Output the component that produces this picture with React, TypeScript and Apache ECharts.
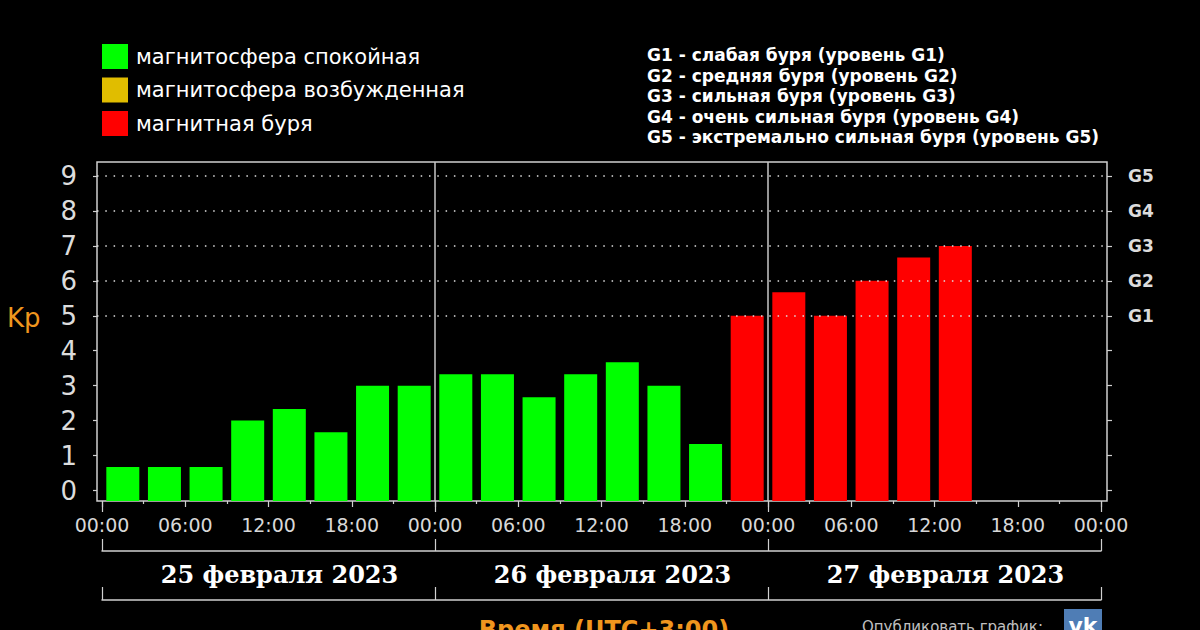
import React, { useEffect, useRef } from "react";
import * as echarts from "echarts";

// ---- data ----
const days = ["25 февраля 2023", "26 февраля 2023", "27 февраля 2023"];
const slotHours = ["00:00", "03:00", "06:00", "09:00", "12:00", "15:00", "18:00", "21:00"];
const kpValues: (number | null)[] = [
  0.67, 0.67, 0.67, 2, 2.33, 1.67, 3, 3,
  3.33, 3.33, 2.67, 3.33, 3.67, 3, 1.33, 5,
  5.67, 5, 6, 6.67, 7, null, null, null,
];
const timeTickLabels = ["00:00", "06:00", "12:00", "18:00"];
const kpTicks = [0, 1, 2, 3, 4, 5, 6, 7, 8, 9];
const stormLevels = [5, 6, 7, 8, 9];
const stormLabels = ["G1", "G2", "G3", "G4", "G5"];
const stormDescriptions = [
  "G1 - слабая буря (уровень G1)",
  "G2 - средняя буря (уровень G2)",
  "G3 - сильная буря (уровень G3)",
  "G4 - очень сильная буря (уровень G4)",
  "G5 - экстремально сильная буря (уровень G5)",
];
const statusNames = ["магнитосфера спокойная", "магнитосфера возбужденная", "магнитная буря"];
const statusColors = ["#00ff00", "#e0bd00", "#ff0000"];
const activeFrom = 4;
const stormFrom = 5;

const slots = days.flatMap((d) => slotHours.map((h) => d + " " + h));
const statusOf = (v: number) => (v >= stormFrom ? 2 : v >= activeFrom ? 1 : 0);

const FONT = "DejaVu Sans";
const LINE = "#d0d0d0";

export default function App() {
  const ref = useRef<HTMLDivElement>(null);
  useEffect(() => {
    if (!ref.current) return;
    const chart = echarts.init(ref.current, undefined, { renderer: "svg" });
    const yMin = -0.3;
    const yMax = 9.4;
    const option: any = {
      animation: false,
      backgroundColor: "#000000",
      textStyle: { fontFamily: FONT },
      legend: {
        data: statusNames,
        left: 102,
        top: 44,
        orient: "vertical",
        itemWidth: 26,
        itemHeight: 25,
        itemGap: 8.5,
        icon: "rect",
        padding: 0,
        selectedMode: false,
        textStyle: { color: "#ffffff", fontSize: 21, fontFamily: FONT, padding: [0, 0, 0, 3], lineHeight: 25 },
      },
      grid: [
        { left: 97, right: 93, top: 162, bottom: 129, show: true, borderColor: LINE, borderWidth: 1.5, backgroundColor: "transparent" },
        { left: 102, right: 99, top: 162, bottom: 129 },
      ],
      xAxis: [
        { gridIndex: 0, type: "value", min: 0, max: 1, show: false },
        { gridIndex: 1, type: "category", data: slots, show: false },
        {
          gridIndex: 1,
          type: "value",
          min: 0,
          max: days.length * 24,
          interval: 6,
          position: "bottom",
          axisLine: { show: false },
          splitLine: { show: false },
          axisTick: { show: true, length: 6, lineStyle: { color: LINE, width: 1.2 } },
          minorTick: { show: true, splitNumber: 2, length: 3, lineStyle: { color: LINE, width: 1.2 } },
          minorSplitLine: { show: false },
          axisLabel: {
            color: "#d8d8d8",
            fontSize: 19,
            fontFamily: FONT,
            margin: 14,
            formatter: (v: number) => timeTickLabels[(v / 6) % timeTickLabels.length],
          },
        },
        {
          gridIndex: 1,
          type: "category",
          data: days,
          position: "bottom",
          offset: 0,
          axisLine: { show: false },
          axisTick: { show: true, length: 11, lineStyle: { color: LINE, width: 1.2 } },
          axisLabel: { show: false },
          splitLine: { show: true, showMinLine: false, showMaxLine: false, lineStyle: { color: "#c8c8c8", width: 1.5 } },
        },
        {
          gridIndex: 1,
          type: "category",
          data: days,
          position: "bottom",
          offset: 50,
          axisLine: { show: true, lineStyle: { color: LINE, width: 1.5 } },
          axisTick: { show: true, inside: true, length: 12, lineStyle: { color: LINE, width: 1.2 } },
          axisLabel: {
            color: "#ffffff",
            fontSize: 24,
            fontWeight: "bold",
            fontFamily: "DejaVu Serif",
            margin: 11,
            padding: [0, 0, 0, 22],
          },
          splitLine: { show: false },
        },
        {
          gridIndex: 1,
          type: "category",
          data: days,
          position: "bottom",
          offset: 99,
          axisLine: { show: true, lineStyle: { color: LINE, width: 1.5 } },
          axisTick: { show: true, inside: true, length: 13, lineStyle: { color: LINE, width: 1.2 } },
          axisLabel: { show: false },
          splitLine: { show: false },
        },
      ],
      yAxis: [
        {
          gridIndex: 0,
          type: "value",
          min: yMin,
          max: yMax,
          position: "left",
          axisLine: { show: false },
          splitLine: { show: false },
          axisTick: { show: true, customValues: kpTicks, length: 4, lineStyle: { color: LINE, width: 1.2 } },
          axisLabel: { customValues: kpTicks, color: "#dcdcdc", fontSize: 26, fontFamily: FONT, margin: 20 },
        },
        {
          gridIndex: 0,
          type: "value",
          min: yMin,
          max: yMax,
          position: "right",
          axisLine: { show: false },
          splitLine: { show: false },
          axisTick: { show: true, customValues: kpTicks, length: 5, lineStyle: { color: LINE, width: 1.2 } },
          axisLabel: {
            customValues: stormLevels,
            color: "#dcdcdc",
            fontSize: 17,
            fontWeight: "bold",
            fontFamily: FONT,
            margin: 21,
            formatter: (v: number) => stormLabels[stormLevels.indexOf(v)] ?? "",
          },
        },
        { gridIndex: 1, type: "value", min: yMin, max: yMax, startValue: yMin, show: false },
      ],
      series: [
        ...statusNames.map((name, k) => ({
          type: "bar",
          name,
          xAxisIndex: 1,
          yAxisIndex: 2,
          barWidth: 33,
          barGap: "-100%",
          itemStyle: { color: statusColors[k] },
          data: kpValues.map((v) => (v != null && statusOf(v) === k ? v : "-")),
        })),
        {
          type: "line",
          name: "levels",
          xAxisIndex: 0,
          yAxisIndex: 0,
          data: [],
          silent: true,
          markLine: {
            silent: true,
            symbol: "none",
            label: { show: false },
            lineStyle: { color: "#e0e0e0", width: 1.5, type: [1.5, 6.8] },
            data: stormLevels.map((v) => ({ yAxis: v })),
          },
        },
      ],
      graphic: [
        {
          type: "text",
          x: 7,
          y: 318,
          style: { text: "Kp", fill: "#f0961e", font: `26px "${FONT}"`, verticalAlign: "middle", align: "left" },
        },
        {
          type: "text",
          x: 647,
          y: 45,
          style: {
            text: stormDescriptions.join("\n"),
            fill: "#ffffff",
            font: `bold 17px "${FONT}"`,
            lineHeight: 20.5,
            verticalAlign: "top",
            align: "left",
          },
        },
        {
          type: "text",
          x: 604,
          y: 618,
          style: { text: "Время (UTC+3:00)", fill: "#f0961e", font: `bold 24px "${FONT}"`, align: "center", verticalAlign: "top" },
        },
        {
          type: "text",
          x: 862,
          y: 619,
          style: { text: "Опубликовать график:", fill: "#c0c0c0", font: `15px "${FONT}"`, align: "left", verticalAlign: "top" },
        },
        {
          type: "rect",
          shape: { x: 1064, y: 609, width: 38, height: 30 },
          style: { fill: "#4f7db5" },
        },
        {
          type: "text",
          x: 1083,
          y: 614,
          style: { text: "vk", fill: "#ffffff", font: `bold 22px "${FONT}"`, align: "center", verticalAlign: "top" },
        },
      ],
    };
    chart.setOption(option);
    return () => chart.dispose();
  }, []);
  return (
    <div
      ref={ref}
      style={{ position: "fixed", left: 0, top: 0, width: 1200, height: 630, background: "#000" }}
    />
  );
}
